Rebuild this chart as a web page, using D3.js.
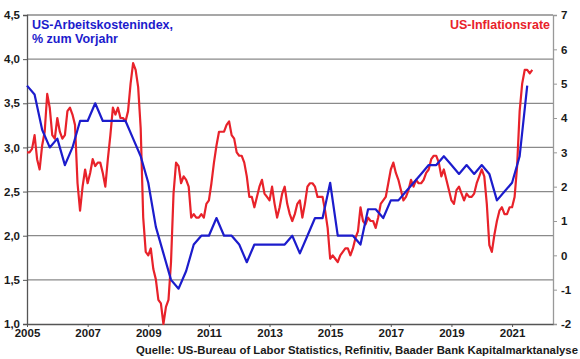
<!DOCTYPE html>
<html>
<head>
<meta charset="utf-8">
<script src="https://cdn.jsdelivr.net/npm/d3@7"></script>
<style>
  html, body { margin: 0; padding: 0; background: #fff; }
  svg { display: block; }
  text { font-family: "Liberation Sans", Arial, sans-serif; font-weight: bold; }
</style>
</head>
<body>
<svg id="chart" width="580" height="359"></svg>
<script>
// ---- Data ----
const startYear = 2005;
// US Employment Cost Index, % y/y, quarterly from 2005Q1
const eciYoY = [
  3.7, 3.6, 3.2, 3.0,   // 2005
  3.1, 2.8, 3.0, 3.3,   // 2006
  3.3, 3.5, 3.3, 3.3,   // 2007
  3.3, 3.3, 3.1, 2.9,   // 2008
  2.6, 2.1, 1.8, 1.5,   // 2009
  1.4, 1.6, 1.9, 2.0,   // 2010
  2.0, 2.2, 2.0, 2.0,   // 2011
  1.9, 1.7, 1.9, 1.9,   // 2012
  1.9, 1.9, 1.9, 2.0,   // 2013
  1.8, 2.0, 2.2, 2.2,   // 2014
  2.6, 2.0, 2.0, 2.0,   // 2015
  1.9, 2.3, 2.3, 2.2,   // 2016
  2.4, 2.4, 2.5, 2.6,   // 2017
  2.7, 2.8, 2.8, 2.9,   // 2018
  2.8, 2.7, 2.8, 2.7,   // 2019
  2.8, 2.7, 2.4, 2.5,   // 2020
  2.6, 2.9, 3.7         // 2021
];
// US inflation rate, % y/y, monthly from 2005-01
const cpiYoY = [
  3.0, 3.0, 3.1, 3.5, 2.8, 2.5, 3.2, 3.6, 4.7, 4.3, 3.5, 3.4,        // 2005
  4.0, 3.6, 3.4, 3.5, 4.2, 4.3, 4.1, 3.8, 2.1, 1.3, 2.0, 2.5,        // 2006
  2.1, 2.4, 2.8, 2.6, 2.7, 2.7, 2.4, 2.0, 2.8, 3.5, 4.3, 4.1,        // 2007
  4.3, 4.0, 4.0, 3.9, 4.2, 5.0, 5.6, 5.4, 4.9, 3.7, 1.1, 0.1,        // 2008
  0.0, 0.2, -0.4, -0.7, -1.3, -1.4, -2.0, -1.5, -1.3, -0.2, 1.8, 2.7, // 2009
  2.6, 2.1, 2.3, 2.2, 2.0, 1.1, 1.2, 1.1, 1.1, 1.2, 1.1, 1.5,        // 2010
  1.6, 2.1, 2.7, 3.2, 3.6, 3.6, 3.6, 3.8, 3.9, 3.5, 3.4, 3.0,        // 2011
  2.9, 2.9, 2.7, 2.3, 1.7, 1.7, 1.4, 1.7, 2.0, 2.2, 1.8, 1.7,        // 2012
  1.6, 2.0, 1.5, 1.1, 1.4, 1.8, 2.0, 1.5, 1.2, 1.0, 1.2, 1.5,        // 2013
  1.6, 1.1, 1.5, 2.0, 2.1, 2.1, 2.0, 1.7, 1.7, 1.7, 1.3, 0.8,        // 2014
  -0.1, 0.0, -0.1, -0.2, 0.0, 0.1, 0.2, 0.2, 0.0, 0.2, 0.5, 0.7,     // 2015
  1.4, 1.0, 0.9, 1.1, 1.0, 1.0, 0.8, 1.1, 1.5, 1.6, 1.7, 2.1,        // 2016
  2.5, 2.7, 2.4, 2.2, 1.9, 1.6, 1.7, 1.9, 2.2, 2.0, 2.2, 2.1,        // 2017
  2.1, 2.2, 2.4, 2.5, 2.8, 2.9, 2.9, 2.7, 2.3, 2.5, 2.2, 1.9,        // 2018
  1.6, 1.5, 1.9, 2.0, 1.8, 1.6, 1.8, 1.7, 1.7, 1.8, 2.1, 2.3,        // 2019
  2.5, 2.3, 1.5, 0.3, 0.1, 0.6, 1.0, 1.3, 1.4, 1.2, 1.2, 1.4,        // 2020
  1.4, 1.7, 2.6, 4.2, 5.0, 5.4, 5.4, 5.3, 5.4                        // 2021
];
const xTickYears = [2005, 2007, 2009, 2011, 2013, 2015, 2017, 2019, 2021];
const leftTicks = [1.0, 1.5, 2.0, 2.5, 3.0, 3.5, 4.0, 4.5];
const rightTicks = [-2, -1, 0, 1, 2, 3, 4, 5, 6, 7];
const leftTitle = ["US-Arbeitskostenindex,", "% zum Vorjahr"];
const rightTitle = "US-Inflationsrate";
const sourceText = "Quelle: US-Bureau of Labor Statistics, Refinitiv, Baader Bank Kapitalmarktanalyse";

// ---- Layout ----
const svg = d3.select("#chart");
const L = 27, R = 553, T = 15, B = 324;
const blue = "#1c1ccc", red = "#e8222a";

const x = d3.scaleLinear().domain([2005, 2022.35]).range([L, R]);
const yL = d3.scaleLinear().domain([1, 4.5]).range([B, T]);
const yR = d3.scaleLinear().domain([-2, 7]).range([B, T]);

const fmt = d => d.toFixed(1).replace(".", ",");

// gridlines
svg.append("g").selectAll("line").data(leftTicks.filter(d => d > 1)).join("line")
  .attr("x1", L).attr("x2", R)
  .attr("y1", d => yL(d)).attr("y2", d => yL(d))
  .attr("stroke", "#8a8a8a").attr("stroke-width", 1.3);

// left axis
const gL = svg.append("g").attr("transform", `translate(${L},0)`)
  .call(d3.axisLeft(yL).tickValues(leftTicks).tickFormat(fmt).tickSize(4).tickPadding(3));
gL.select(".domain").attr("stroke", "#555").attr("stroke-width", 1.3);
gL.selectAll(".tick line").attr("stroke", "#555");
gL.selectAll("text").attr("font-size", 11.5).attr("fill", "#1a1a1a")
  .style("font-family", '"Liberation Sans", Arial, sans-serif').style("font-weight", "bold");

// right axis
const gR = svg.append("g").attr("transform", `translate(${R},0)`)
  .call(d3.axisRight(yR).tickValues(rightTicks).tickFormat(d => String(d)).tickSize(4).tickPadding(4));
gR.select(".domain").attr("stroke", "#999").attr("stroke-width", 1.3);
gR.selectAll(".tick line").attr("stroke", "#999");
gR.selectAll("text").attr("font-size", 11.5).attr("fill", "#1a1a1a")
  .style("font-family", '"Liberation Sans", Arial, sans-serif').style("font-weight", "bold");

// bottom axis
const gB = svg.append("g").attr("transform", `translate(0,${B})`)
  .call(d3.axisBottom(x).tickValues(xTickYears).tickFormat(d => String(d)).tickSize(3).tickPadding(2).tickSizeOuter(0));
gB.select(".domain").attr("stroke", "#555").attr("stroke-width", 1.3);
gB.selectAll(".tick line").attr("stroke", "#555");
gB.selectAll("text").attr("font-size", 11.5).attr("fill", "#1a1a1a")
  .style("font-family", '"Liberation Sans", Arial, sans-serif').style("font-weight", "bold");

// lines
const redLine = d3.line().x((d, i) => x(startYear + i / 12)).y(d => yR(d));
const blueLine = d3.line().x((d, i) => x(startYear + i / 4)).y(d => yL(d));

svg.append("path").datum(cpiYoY).attr("d", redLine)
  .attr("fill", "none").attr("stroke", red).attr("stroke-width", 2.2).attr("stroke-linejoin", "round");
svg.append("path").datum(eciYoY).attr("d", blueLine)
  .attr("fill", "none").attr("stroke", blue).attr("stroke-width", 2.2).attr("stroke-linejoin", "round");

// titles
svg.append("text").attr("x", 32).attr("y", 29).attr("fill", blue).attr("font-size", 12.5).text(leftTitle[0]);
svg.append("text").attr("x", 32).attr("y", 43).attr("fill", blue).attr("font-size", 12.5).text(leftTitle[1]);
svg.append("text").attr("x", 550).attr("y", 29).attr("fill", red).attr("font-size", 12.5)
  .attr("text-anchor", "end").text(rightTitle);

// source
svg.append("text").attr("x", 578).attr("y", 354).attr("fill", "#1a1a1a").attr("font-size", 11)
  .attr("text-anchor", "end").attr("textLength", 442).attr("lengthAdjust", "spacingAndGlyphs").text(sourceText);
</script>
</body>
</html>
